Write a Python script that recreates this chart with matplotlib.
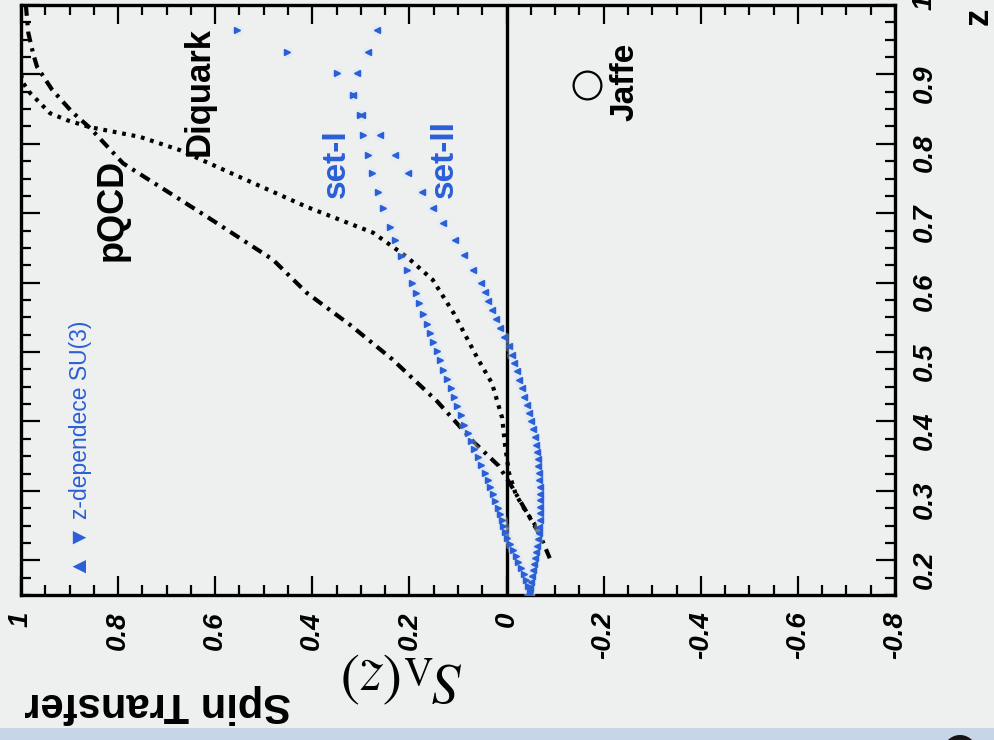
import matplotlib
matplotlib.use('Agg')
import matplotlib.pyplot as plt
from matplotlib.patches import Rectangle, Ellipse
from matplotlib.ticker import MultipleLocator

plt.rcParams['font.family'] = ['Liberation Sans', 'DejaVu Sans']
plt.rcParams['mathtext.fontset'] = 'stix'

# pQCD curve (dash-dot)
pqcd_z = [1.0, 0.96, 0.93, 0.911, 0.878, 0.846, 0.823, 0.772, 0.695, 0.633,
          0.585, 0.539, 0.490, 0.429, 0.370, 0.336, 0.306, 0.271, 0.236, 0.203]
pqcd_s = [0.99, 0.985, 0.975, 0.967, 0.936, 0.895, 0.858, 0.790, 0.617, 0.481,
          0.411, 0.322, 0.236, 0.143, 0.067, 0.016, -0.011, -0.040, -0.069, -0.089]

# diquark model curve (dotted)
diq_z = [0.90, 0.888, 0.873, 0.859, 0.844, 0.834, 0.824, 0.810, 0.791, 0.752,
         0.709, 0.672, 0.637, 0.604, 0.555, 0.490, 0.455, 0.405, 0.365, 0.326,
         0.295, 0.270, 0.241]
diq_s = [1.0, 0.996, 0.981, 0.961, 0.940, 0.905, 0.858, 0.755, 0.673, 0.549,
         0.411, 0.275, 0.205, 0.152, 0.108, 0.059, 0.030, 0.009, 0.003, -0.005,
         -0.019, -0.040, -0.069]

# z-dependent SU(3), set-I
set1_z = [0.964, 0.932, 0.902, 0.870, 0.842, 0.813, 0.784, 0.758, 0.731, 0.708,
          0.680, 0.661, 0.638, 0.618, 0.599, 0.585, 0.571, 0.555, 0.540, 0.527,
          0.514, 0.502, 0.489, 0.474, 0.461, 0.448, 0.435, 0.422, 0.409, 0.395,
          0.383, 0.372, 0.360, 0.349, 0.337, 0.326, 0.316, 0.306, 0.295, 0.285,
          0.275, 0.267, 0.258, 0.249, 0.241, 0.232, 0.223, 0.215, 0.206, 0.198,
          0.189, 0.180, 0.172, 0.163, 0.154]
set1_s = [0.555, 0.452, 0.349, 0.316, 0.302, 0.296, 0.285, 0.277, 0.265, 0.255,
          0.240, 0.230, 0.217, 0.205, 0.195, 0.187, 0.180, 0.172, 0.164, 0.158,
          0.152, 0.143, 0.137, 0.131, 0.123, 0.115, 0.108, 0.102, 0.094, 0.088,
          0.080, 0.073, 0.067, 0.059, 0.053, 0.044, 0.038, 0.034, 0.028, 0.024,
          0.018, 0.014, 0.009, 0.007, 0.003, -0.001, -0.007, -0.013, -0.019, -0.023,
          -0.030, -0.036, -0.040, -0.044, -0.048]

# z-dependent SU(3), set-II
set2_z = [0.964, 0.932, 0.902, 0.870, 0.842, 0.813, 0.784, 0.758, 0.731, 0.708,
          0.686, 0.661, 0.640, 0.618, 0.599, 0.587, 0.574, 0.561, 0.548, 0.535,
          0.522, 0.509, 0.496, 0.484, 0.473, 0.460, 0.448, 0.435, 0.424, 0.412,
          0.401, 0.389, 0.378, 0.366, 0.356, 0.346, 0.336, 0.326, 0.316, 0.306,
          0.295, 0.287, 0.277, 0.268, 0.258, 0.248, 0.239, 0.230, 0.221, 0.212,
          0.203, 0.195, 0.186, 0.177, 0.169, 0.160, 0.151]
set2_s = [0.267, 0.285, 0.308, 0.316, 0.298, 0.261, 0.230, 0.203, 0.174, 0.152,
          0.131, 0.106, 0.088, 0.069, 0.053, 0.044, 0.038, 0.030, 0.022, 0.014,
          0.005, -0.005, -0.011, -0.015, -0.021, -0.026, -0.032, -0.036, -0.042, -0.046,
          -0.050, -0.054, -0.058, -0.061, -0.063, -0.065, -0.065, -0.067, -0.067, -0.069,
          -0.069, -0.069, -0.069, -0.069, -0.069, -0.067, -0.067, -0.065, -0.063, -0.061,
          -0.058, -0.056, -0.054, -0.052, -0.050, -0.048, -0.046]

# Jaffe point
jaffe_z = [0.885]
jaffe_s = [-0.166]

s_ticks = [1.0, 0.8, 0.6, 0.4, 0.2, 0.0, -0.2, -0.4, -0.6, -0.8]
s_labels = ['1', '0.8', '0.6', '0.4', '0.2', '0', '-0.2', '-0.4', '-0.6', '-0.8']
z_ticks = [0.2, 0.3, 0.4, 0.5, 0.6, 0.7, 0.8, 0.9, 1.0]
z_labels = ['0.2', '0.3', '0.4', '0.5', '0.6', '0.7', '0.8', '0.9', '1']

BG = '#eef0f0'
BLUE = '#2b5fd6'

fig = plt.figure(figsize=(9.95, 7.4), dpi=100, facecolor=BG)
ax = fig.add_axes([21 / 995, 1 - 595 / 740, 874 / 995, 590 / 740])
ax.set_facecolor(BG)

# plot is laid on its side: S along the horizontal, z along the vertical
ax.set_xlim(1.0, -0.8)
ax.set_ylim(0.15, 1.0)

ax.axvline(0, color='black', lw=2.4, zorder=2)

ax.plot(pqcd_s, pqcd_z, color='black', lw=3.0, ls=(0, (2.6, 1.5, 0.8, 1.5)), zorder=3)
ax.plot(diq_s, diq_z, color='black', lw=3.0, ls=(0, (0.9, 1.4)), zorder=3)

for s, z, m in [(set1_s, set1_z, '>'), (set2_s, set2_z, '<')]:
    ax.plot(s, z, ls='none', marker='o', ms=8, color='#d2e2fb', alpha=0.35,
            mec='none', zorder=4)
    ax.plot(s, z, ls='none', marker=m, ms=4.5, color=BLUE, mec=BLUE, zorder=5)

ax.plot(jaffe_s, jaffe_z, ls='none', marker='o', ms=20, mfc='none', mec='black',
        mew=1.6, zorder=5)

# curve labels
ax.text(0.813, 0.705, 'pQCD', rotation=90, fontsize=26, fontweight='bold',
        ha='center', va='center')
ax.text(0.633, 0.875, 'Diquark', rotation=90, fontsize=25, fontweight='bold',
        ha='center', va='center')
ax.text(0.351, 0.771, 'set-I', rotation=90, fontsize=24, fontweight='bold',
        color=BLUE, ha='center', va='center')
ax.text(0.129, 0.778, 'set-II', rotation=90, fontsize=24, fontweight='bold',
        color=BLUE, ha='center', va='center')
ax.text(-0.244, 0.889, 'Jaffe', rotation=90, fontsize=24, fontweight='bold',
        ha='center', va='center')
ax.text(0.878, 0.176, '\u25b2 \u25bc z-dependece SU(3)', rotation=90, fontsize=16.5,
        color=BLUE, ha='center', va='bottom')

# ticks
ax.set_xticks(s_ticks)
ax.set_xticklabels(s_labels, rotation=90, fontsize=20, fontweight='bold',
                   fontstyle='italic')
ax.set_yticks(z_ticks)
ax.set_yticklabels(z_labels, rotation=90, fontsize=20, fontweight='bold',
                   fontstyle='italic')
for lbl in ax.get_yticklabels():
    lbl.set_va('center')
ax.xaxis.set_minor_locator(MultipleLocator(0.05))
ax.yaxis.set_minor_locator(MultipleLocator(0.025))
ax.tick_params(which='both', direction='in', top=True, bottom=True, left=True,
               right=True, labelleft=False, labelright=True, width=1.6)
ax.tick_params(which='major', length=14, pad=12)
ax.tick_params(which='minor', length=7)
for sp in ax.spines.values():
    sp.set_linewidth(2.4)

# axis titles
fig.text(24 / 995, 1 - 704 / 740, 'Spin Transfer', rotation=180, fontsize=30,
         fontweight='bold', ha='left', va='center')
fig.text(402 / 995, 1 - 678 / 740, r'$S_{\Lambda}(z)$', rotation=180, fontsize=42,
         ha='center', va='center')
fig.text(978 / 995, 1 - 16 / 740, 'z', rotation=90, fontsize=25,
         fontweight='bold', ha='center', va='center')

# strip and corner blob at the bottom edge
fig.add_artist(Rectangle((0, 0), 1, 12 / 740, transform=fig.transFigure,
                         facecolor='#c6d6e8', edgecolor='none', zorder=0))
fig.add_artist(Ellipse((960 / 995, -12 / 740), 34 / 995, 34 / 740,
                       transform=fig.transFigure, facecolor='#151515',
                       edgecolor='none'))

fig.savefig('out.png', dpi=100, facecolor=BG)
